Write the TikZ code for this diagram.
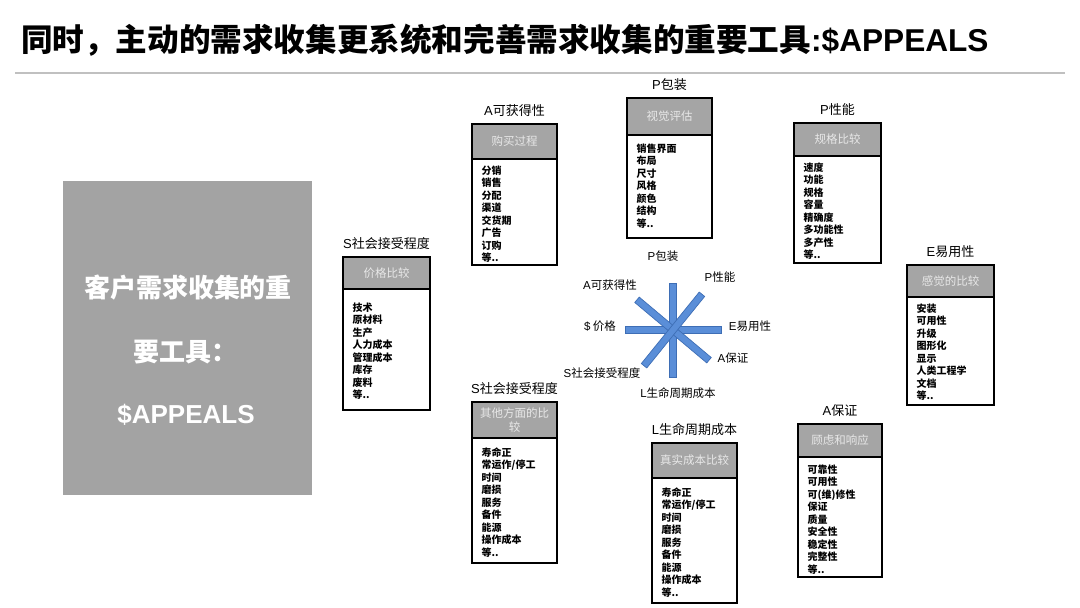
\documentclass[tikz,border=0pt]{standalone}
\usepackage{fontspec}
\setmainfont{Noto Sans CJK SC}
\newfontfamily\lat{Liberation Sans}
\definecolor{headgray}{HTML}{A5A5A5}
\definecolor{headtext}{HTML}{E8E8E8}
\definecolor{biggray}{HTML}{A3A3A3}
\definecolor{ruleline}{HTML}{C0C0C0}
\definecolor{barblue}{HTML}{5A8ED8}
\definecolor{baredge}{HTML}{3E6EB5}
\def\itemgap{5.5}
\newcommand\catbox[9]{%
  % #1 name, #2 x-left, #3 top, #4 header bottom, #5 bottom, #6 width, #7 label, #8 header, #9 items
  \node[boxbody, minimum width=#6, minimum height={#5-#3}] (#1) at (#2,#3) {};
  \node[boxhead, minimum width=#6, minimum height={#4-#3}, text width={#6-4}] (#1h) at (#2,#3) {#8};
  \node[boxlabel] (#1l) at ([yshift=13.5pt]#1.north) {#7};
  \node[boxitems] (#1i) at ([xshift=9.5pt,yshift=-\itemgap pt]#1h.south west) {#9};
}
\begin{document}
\begin{tikzpicture}[x=1pt,y=-1pt,
  boxbody/.style={draw=black, line width=1.3pt, fill=white, inner sep=0pt, outer sep=0pt, anchor=north west},
  boxhead/.style={draw=black, line width=1.3pt, fill=headgray, text=headtext, inner sep=0pt, outer sep=0pt,
    anchor=north west, align=center, font=\fontsize{11.5}{13.5}\selectfont},
  boxlabel/.style={inner sep=0pt, font=\fontsize{13}{15}\selectfont},
  boxitems/.style={inner sep=0pt, anchor=north west, align=left, font=\bfseries\fontsize{10}{12.5}\selectfont},
  starlabel/.style={inner sep=0pt, font=\fontsize{11.5}{13}\selectfont},
  bigtext/.style={inner sep=0pt, text=white, font=\bfseries\fontsize{26}{30}\selectfont},
  bar/.style={fill=barblue, draw=baredge, line width=0.7pt}
]
\useasboundingbox (0,0) rectangle (1080,608);
\fill[white] (0,0) rectangle (1080,608);

% title
\node[anchor=west, inner sep=0pt, font=\bfseries\fontsize{31.6}{35}\selectfont] (title) at (21,40)
  {同时，主动的需求收集更系统和完善需求收集的重要工具{\lat :\$APPEALS}};
\coordinate (ruleA) at (15,73);
\coordinate (ruleB) at (1065,73);
\draw[ruleline, line width=1.8pt] (ruleA) -- (ruleB);

% big left box
\node[anchor=north west, fill=biggray, minimum width=249, minimum height=314, inner sep=0pt] (tool) at (63,181) {};
\node[bigtext] (tool1) at (188,288) {客户需求收集的重};
\node[bigtext, anchor=west] (tool2) at (133,352) {要工具：};
\node[bigtext] (tool3) at (186,415) {\lat\bfseries \$APPEALS};

% category boxes
\def\itemgap{13.5}
\catbox{price}{343}{257}{289}{410}{87}{{\lat S}社会接受程度}{价格比较}
  {技术\\原材料\\生产\\人力成本\\管理成本\\库存\\废料\\等..}
\def\itemgap{6.5}
\catbox{avail}{472}{124}{159}{265}{85}{{\lat A}可获得性}{购买过程}
  {分销\\销售\\分配\\渠道\\交货期\\广告\\订购\\等..}
\def\itemgap{8.5}
\catbox{pack}{627}{98}{135}{238}{85}{{\lat P}包装}{视觉评估}
  {销售界面\\布局\\尺寸\\风格\\颜色\\结构\\等..}
\def\itemgap{6.5}
\catbox{perf}{794}{123}{156}{263}{87}{{\lat P}性能}{规格比较}
  {速度\\功能\\规格\\容量\\精确度\\多功能性\\多产性\\等..}
\catbox{ease}{907}{265}{297}{405}{87}{{\lat E}易用性}{感觉的比较}
  {安装\\可用性\\升级\\图形化\\显示\\人类工程学\\文档\\等..}
\def\itemgap{9.5}
\catbox{social}{472}{402}{438}{563}{85}{{\lat S}社会接受程度}{其他方面的比\\较}
  {寿命正\\常运作/停工\\时间\\磨损\\服务\\备件\\能源\\操作成本\\等..}
\catbox{life}{652}{443}{478}{603}{85}{{\lat L}生命周期成本}{真实成本比较}
  {寿命正\\常运作/停工\\时间\\磨损\\服务\\备件\\能源\\操作成本\\等..}
\def\itemgap{7.5}
\catbox{assur}{798}{424}{457}{577}{84}{{\lat A}保证}{顾虑和响应}
  {可靠性\\可用性\\可(维)修性\\保证\\质量\\安全性\\稳定性\\完整性\\等..}

% star
\coordinate (sc) at (673,330);
\foreach \a/\l in {90/47, 0/48, -40/47, 51/46}{
  \begin{scope}[shift={(sc)}, rotate=\a]
    \filldraw[bar] (-\l,-3.5) rectangle (\l,3.5);
  \end{scope}
}
\node[starlabel] (sP1) at (663,256) {{\lat P}包装};
\node[starlabel] (sP2) at (720,277) {{\lat P}性能};
\node[starlabel] (sA1) at (610,285) {{\lat A}可获得性};
\node[starlabel] (sD)  at (600,326) {{\lat \$} 价格};
\node[starlabel] (sE)  at (750,326) {{\lat E}易用性};
\node[starlabel] (sA2) at (733,358) {{\lat A}保证};
\node[starlabel] (sS)  at (602,373) {{\lat S}社会接受程度};
\node[starlabel] (sL)  at (678,393) {{\lat L}生命周期成本};
\end{tikzpicture}
\end{document}
